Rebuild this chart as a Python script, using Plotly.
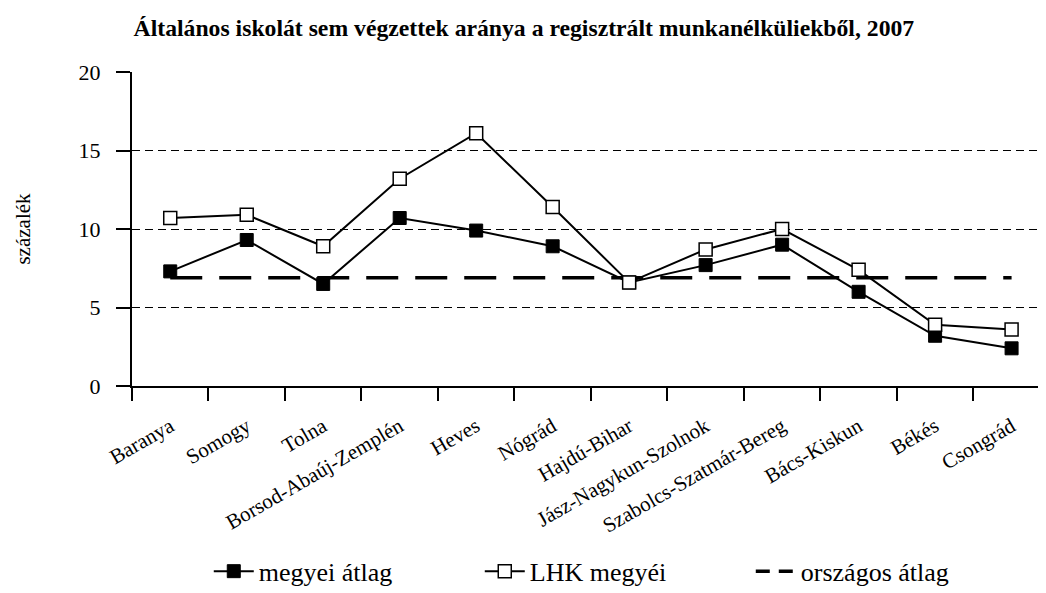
import plotly.graph_objects as go

counties = [
    "Baranya", "Somogy", "Tolna", "Borsod-Abaúj-Zemplén", "Heves", "Nógrád",
    "Hajdú-Bihar", "Jász-Nagykun-Szolnok", "Szabolcs-Szatmár-Bereg",
    "Bács-Kiskun", "Békés", "Csongrád",
]
megyei_atlag = [7.3, 9.3, 6.5, 10.7, 9.9, 8.9, 6.6, 7.7, 9.0, 6.0, 3.2, 2.4]
lhk_megyei = [10.7, 10.9, 8.9, 13.2, 16.1, 11.4, 6.6, 8.7, 10.0, 7.4, 3.9, 3.6]
orszagos_atlag = [6.9, 6.9, 6.9, 6.9, 6.9, 6.9, 6.9, 6.9, 6.9, 6.9, 6.9, 6.9]

FONT = "Liberation Serif"

fig = go.Figure()
fig.add_trace(go.Scatter(
    x=counties, y=orszagos_atlag, name="országos átlag", mode="lines",
    line=dict(color="black", width=3.5, dash="32px,17px"),
    showlegend=False,
))
fig.add_trace(go.Scatter(
    x=counties, y=megyei_atlag, name="megyei átlag", mode="lines+markers",
    line=dict(color="black", width=2),
    marker=dict(symbol="square", size=13, color="black", line=dict(color="black", width=1)),
    legendrank=1,
))
fig.add_trace(go.Scatter(
    x=counties, y=lhk_megyei, name="LHK megyéi", mode="lines+markers",
    line=dict(color="black", width=2),
    marker=dict(symbol="square", size=13, color="white", line=dict(color="black", width=1.5)),
    legendrank=2,
))
# legend-only entry: shorter dashes so the pattern shows in the small legend swatch
fig.add_trace(go.Scatter(
    x=[None], y=[None], name="országos átlag", mode="lines",
    line=dict(color="black", width=3.5, dash="14px,9px"),
    legendrank=3,
))

# the page body adds an 8px offset, so the figure is 8px smaller than the window
fig.update_layout(
    width=1038, height=585,
    paper_bgcolor="white", plot_bgcolor="white",
    font=dict(family=FONT, color="black", size=20),
    margin=dict(l=124, r=0, t=64, b=207, autoexpand=False),
    title=dict(
        text="<b>Általános iskolát sem végzettek aránya a regisztrált munkanélküliekből, 2007</b>",
        x=0.497, xref="container", xanchor="center", y=0.966, yanchor="middle",
        font=dict(family=FONT, size=23.7, color="black"),
    ),
    showlegend=True,
    legend=dict(
        orientation="h", x=0.084, xanchor="left", y=-0.59, yanchor="middle",
        font=dict(family=FONT, size=26, color="black"),
        entrywidth=216, itemwidth=40,
    ),
    xaxis=dict(
        type="category", range=[-0.5, 11.45], automargin=False,
        showline=True, linecolor="black", linewidth=2,
        ticks="outside", tickson="boundaries", ticklen=13, tickwidth=2, tickcolor="black",
        ticklabelstandoff=18,
        tickangle=-30, tickfont=dict(family=FONT, size=21, color="black"),
        showgrid=False, zeroline=False,
    ),
    yaxis=dict(
        range=[0, 20], tickvals=[0, 5, 10, 15, 20], automargin=False,
        showline=True, linecolor="black", linewidth=2,
        ticks="outside", ticklen=14, tickwidth=2, tickcolor="black",
        ticklabelstandoff=11,
        tickfont=dict(family=FONT, size=22, color="black"),
        showgrid=True, gridcolor="black", gridwidth=1, griddash="8px,5px",
        zeroline=False,
        title=dict(text="százalék", standoff=42, font=dict(family=FONT, size=21, color="black")),
    ),
)

fig.write_html("out.html")
